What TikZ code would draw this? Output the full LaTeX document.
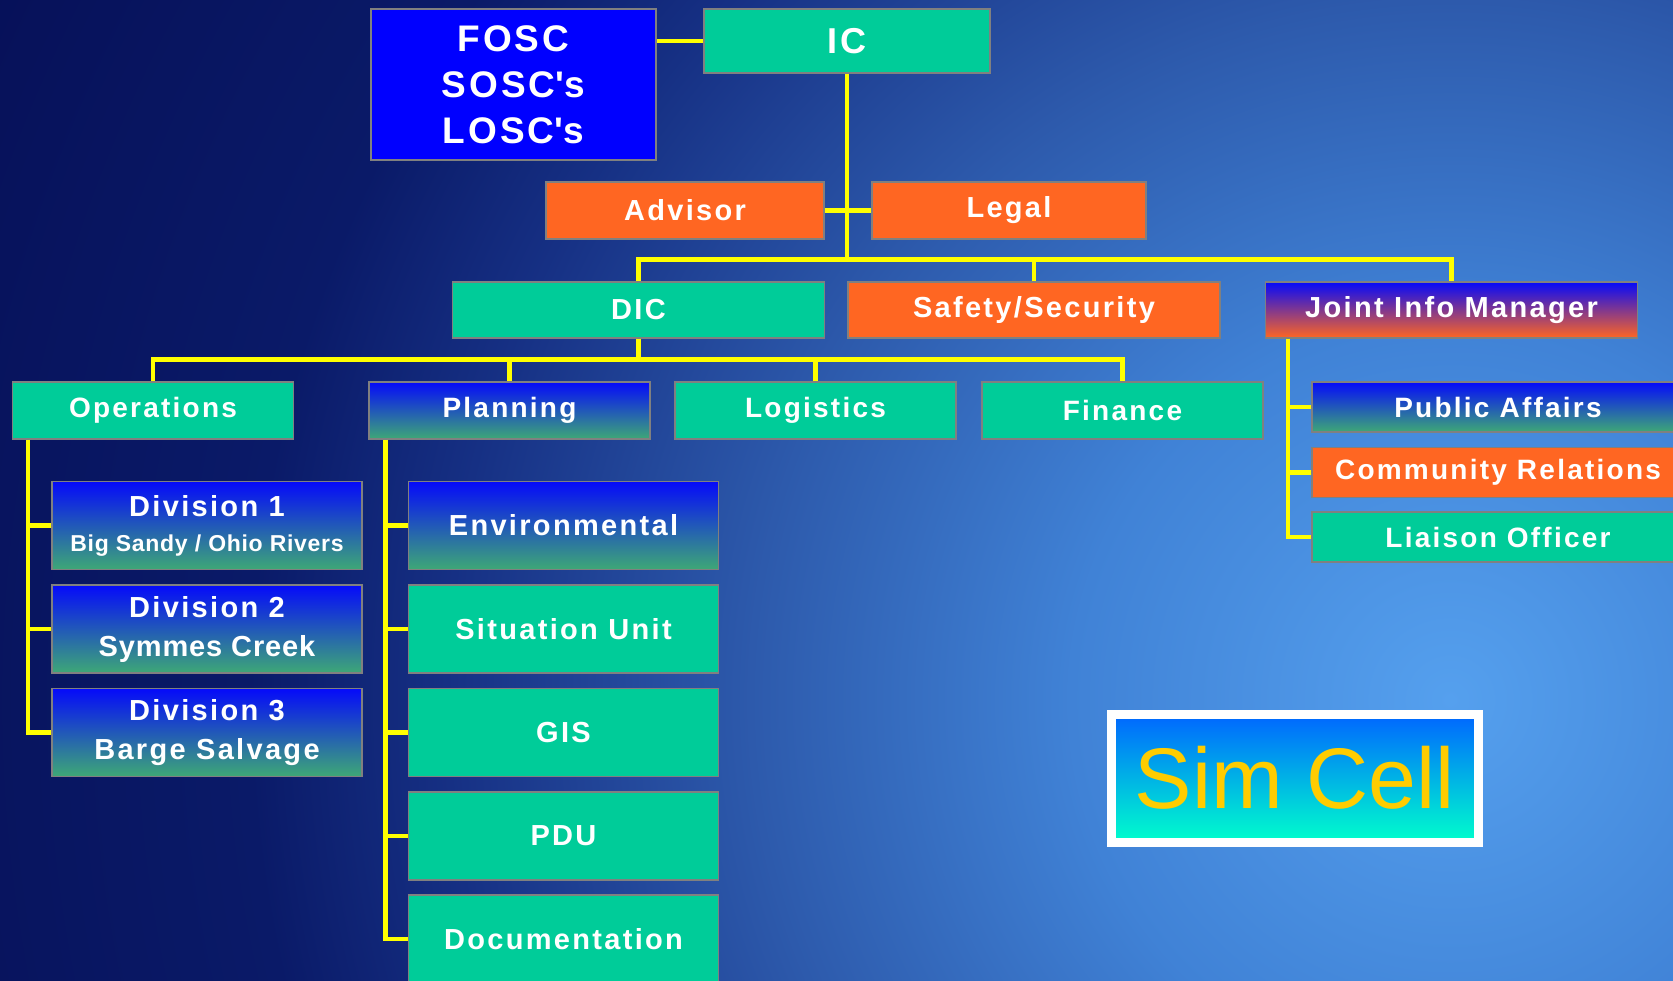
\documentclass[tikz,border=0pt]{standalone}
\usepackage{fontspec}
\usepackage{tikz}
\usetikzlibrary{positioning,calc}
\newfontfamily\boxfont[LetterSpace=8]{Liberation Sans}
\newfontfamily\subfont[LetterSpace=3]{Liberation Sans}
\newfontfamily\simfont{Liberation Sans}
\definecolor{icsgreen}{RGB}{0,204,153}
\definecolor{icsorange}{RGB}{255,102,34}
\definecolor{pureblue}{RGB}{0,0,255}
\definecolor{boxline}{RGB}{128,128,128}
\definecolor{linkyellow}{RGB}{255,255,0}
\definecolor{fadetop}{RGB}{5,10,250}
\definecolor{fademid}{RGB}{35,90,205}
\definecolor{fadebot}{RGB}{62,168,118}
\definecolor{jimmid}{RGB}{125,50,160}
\definecolor{simtop}{RGB}{0,102,255}
\definecolor{simmid}{RGB}{0,200,228}
\definecolor{simbot}{RGB}{0,255,204}
\definecolor{simyellow}{RGB}{255,204,0}
\definecolor{bgA}{RGB}{85,160,238}
\definecolor{bgB}{RGB}{64,130,214}
\definecolor{bgC}{RGB}{45,90,172}
\definecolor{bgD}{RGB}{22,48,132}
\definecolor{bgE}{RGB}{10,26,104}
\definecolor{bgF}{RGB}{6,16,88}
\pgfdeclareradialshading{backdrop}{\pgfpoint{0bp}{0bp}}{color(0bp)=(bgA); color(5.75bp)=(bgB); color(10.6bp)=(bgC); color(15.2bp)=(bgD); color(18.2bp)=(bgE); color(25bp)=(bgF); color(50bp)=(bgF)}
\tikzset{
box/.style = {draw=boxline, line width=1.2pt, text=white, align=center, inner sep=0pt, font=\boxfont\bfseries\fontsize{29}{35}\selectfont},
greenbox/.style = {box, fill=icsgreen},
orangebox/.style = {box, fill=icsorange},
bluebox/.style = {box, fill=pureblue},
fadebox/.style = {box, top color=fadetop, middle color=fademid, bottom color=fadebot},
jimbox/.style = {box, top color=fadetop, middle color=jimmid, bottom color=icsorange},
tier/.style = {minimum width=372pt, minimum height=56pt},
unit/.style = {minimum width=281pt, minimum height=57pt, font=\boxfont\bfseries\fontsize{28}{34}\selectfont},
cell/.style = {minimum width=310pt, minimum height=88pt},
info/.style = {minimum width=372pt, minimum height=50pt, font=\boxfont\bfseries\fontsize{28}{34}\selectfont},
simcell/.style = {draw=white, line width=9pt, minimum width=367pt, minimum height=128pt, inner sep=0pt, top color=simtop, middle color=simmid, bottom color=simbot, text=simyellow, font=\simfont\fontsize{86}{86}\selectfont},
link/.style = {draw=linkyellow, line width=4.5pt}
}
\newcommand{\sublabel}[1]{{\subfont\bfseries\fontsize{23}{23}\selectfont #1}}

\begin{document}
\begin{tikzpicture}[x=1pt, y=-1pt]
  \useasboundingbox (0,0) rectangle (1673,980);
  \clip (0,0) rectangle (1673,980);
  \shade[shading=backdrop] (1450,700) circle (1650pt);

  % command staff
  \node [bluebox, minimum width=285pt, minimum height=151pt, font=\boxfont\bfseries\fontsize{37}{46}\selectfont] (fosc) at (513.5,84.5) {FOSC\\SOSC\textquotesingle s\\LOSC\textquotesingle s};
  \node [greenbox, minimum width=286pt, minimum height=64pt, font=\boxfont\bfseries\fontsize{36}{40}\selectfont] (ic) at (847,41) {IC};
  \node [orangebox, minimum width=278pt, minimum height=57pt] (advisor) at (685,210.5) {Advisor};
  \node [orangebox, minimum width=274pt, minimum height=57pt] (legal) at (1009,210.5) {Legal};

  \node [greenbox, tier] (dic) at (638.5,310) {DIC};
  \node [orangebox, tier] (safety) at (1034,310) {Safety/Security};
  \node [jimbox, tier] (jim) at (1451.5,310) {Joint Info Manager};

  % sections
  \node [greenbox, unit] (ops) at (153,410.5) {Operations};
  \node [fadebox, unit] (plan) at (509.5,410.5) {Planning};
  \node [greenbox, unit] (log) at (815.5,410.5) {Logistics};
  \node [greenbox, unit] (fin) at (1122.5,410.5) {Finance};

  \node [fadebox, cell] (div1) at (207,525.5) {Division 1\\\sublabel{Big Sandy / Ohio Rivers}};
  \node [fadebox, cell] (div2) at (207,629) {Division 2\\[4pt]{\subfont\bfseries Symmes Creek}};
  \node [fadebox, cell] (div3) at (207,732.5) {Division 3\\[4pt]Barge Salvage};

  \node [fadebox, cell] (env) at (563.5,525.5) {Environmental};
  \node [greenbox, cell] (sit) at (563.5,629) {Situation Unit};
  \node [greenbox, cell] (gis) at (563.5,732.5) {GIS};
  \node [greenbox, cell] (pdu) at (563.5,836) {PDU};
  \node [greenbox, cell] (doc) at (563.5,939) {Documentation};

  \node [fadebox, info] (pa) at (1498,407) {Public Affairs};
  \node [orangebox, info] (cr) at (1498,472.5) {Community Relations};
  \node [greenbox, info] (liaison) at (1498,537) {Liaison Officer};

  \node [simcell] (sim) at (1295,778) {Sim Cell};

  % connectors
  \draw [link] (ic.west) -- (ic.west -| fosc.east);
  \draw [link] (advisor.east) -- (legal.west);
  \coordinate (cmdbar) at ($(dic.north)+(0,-22)$);
  \draw [link] (ic.south) -- (ic.south |- cmdbar);
  \draw [link] (dic.north) -- (cmdbar) -| (jim.north);
  \draw [link] (safety.north) -- (safety.north |- cmdbar);

  \coordinate (genbar) at ($(ops.north)+(0,-22)$);
  \draw [link] (ops.north) -- (genbar) -| (fin.north);
  \foreach \n in {dic.south,plan.north,log.north}
    \draw [link] (\n) -- (\n |- genbar);

  \coordinate (opsx) at ($(ops.south west)+(16,0)$);
  \draw [link] (opsx) |- (div3.west);
  \foreach \n in {div1,div2}
    \draw [link] (\n.west) -- (\n.west -| opsx);

  \coordinate (planx) at ($(plan.south west)+(17,0)$);
  \draw [link] (planx) |- (doc.west);
  \foreach \n in {env,sit,gis,pdu}
    \draw [link] (\n.west) -- (\n.west -| planx);

  \coordinate (jimx) at ($(jim.south west)+(23,0)$);
  \draw [link] (jimx) |- (liaison.west);
  \foreach \n in {pa,cr}
    \draw [link] (\n.west) -- (\n.west -| jimx);
\end{tikzpicture}
\end{document}
